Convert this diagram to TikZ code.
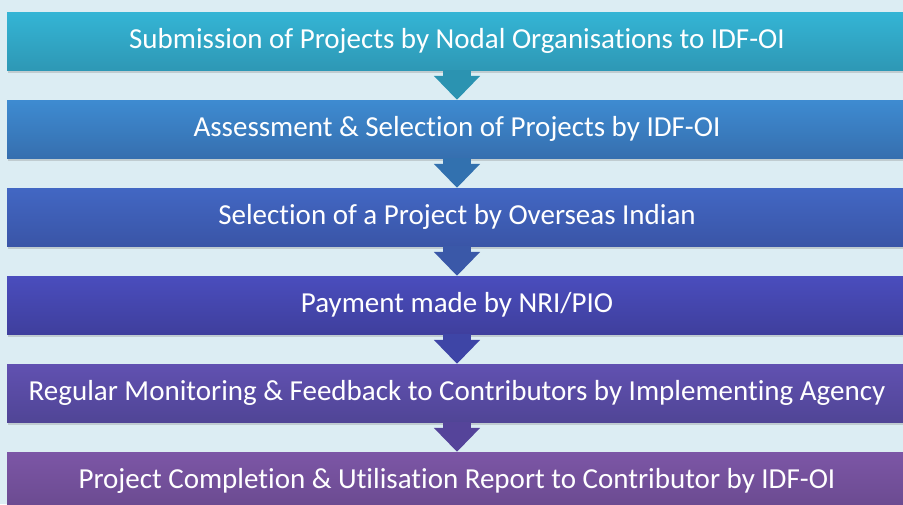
\documentclass[tikz,border=0pt]{standalone}
\usepackage{fontspec}
\setmainfont{Carlito}[Ligatures=NoCommon]
\usetikzlibrary{arrows.meta,shadows}
\definecolor{bgblue}{HTML}{DCEDF3}
\definecolor{barAt}{HTML}{34B5D5}
\definecolor{barAb}{HTML}{2E98B5}
\definecolor{barBt}{HTML}{3E8BD1}
\definecolor{barBb}{HTML}{366FAF}
\definecolor{barCt}{HTML}{4267C3}
\definecolor{barCb}{HTML}{3A55A7}
\definecolor{barDt}{HTML}{4A4DBD}
\definecolor{barDb}{HTML}{3F3F9D}
\definecolor{barEt}{HTML}{6151B1}
\definecolor{barEb}{HTML}{504596}
\definecolor{barFt}{HTML}{7C56A6}
\definecolor{barFb}{HTML}{6A4A8F}
\definecolor{arrA}{HTML}{2B93B1}
\definecolor{arrB}{HTML}{3271AF}
\definecolor{arrC}{HTML}{3A58A8}
\definecolor{arrD}{HTML}{3E45A6}
\definecolor{arrE}{HTML}{55449A}

\begin{document}
\begin{tikzpicture}[x=1pt,y=1pt,node distance=88pt,
    main/.style = {minimum width=900pt, minimum height=58pt, inner sep=0pt, text=white,
        font=\fontsize{29}{34}\selectfont, drop shadow={shadow xshift=1pt, shadow yshift=-2.5pt, opacity=0.3}},
    flow/.style = {line width=28pt, -{Triangle[width=45pt,length=24pt]}}]
    \clip (0,0) rectangle (903,-504);
    \fill[bgblue] (0,0) rectangle (903,-504);
    \node[main,top color=barAt,bottom color=barAb] (1) at (457,-41) {Submission of Projects by Nodal Organisations to IDF-OI};
    \node[main,top color=barBt,bottom color=barBb] (2) [below of=1] {Assessment \& Selection of Projects by IDF-OI};
    \node[main,top color=barCt,bottom color=barCb] (3) [below of=2] {Selection of a Project by Overseas Indian};
    \node[main,top color=barDt,bottom color=barDb] (4) [below of=3] {Payment made by NRI/PIO};
    \node[main,top color=barEt,bottom color=barEb] (5) [below of=4] {Regular Monitoring \& Feedback to Contributors by Implementing Agency};
    \node[main,top color=barFt,bottom color=barFb] (6) [below of=5] {Project Completion \& Utilisation Report to Contributor by IDF-OI};
    \path[flow]
        (1) edge[draw=arrA] (2)
        (2) edge[draw=arrB] (3)
        (3) edge[draw=arrC] (4)
        (4) edge[draw=arrD] (5)
        (5) edge[draw=arrE] (6);
\end{tikzpicture}
\end{document}
